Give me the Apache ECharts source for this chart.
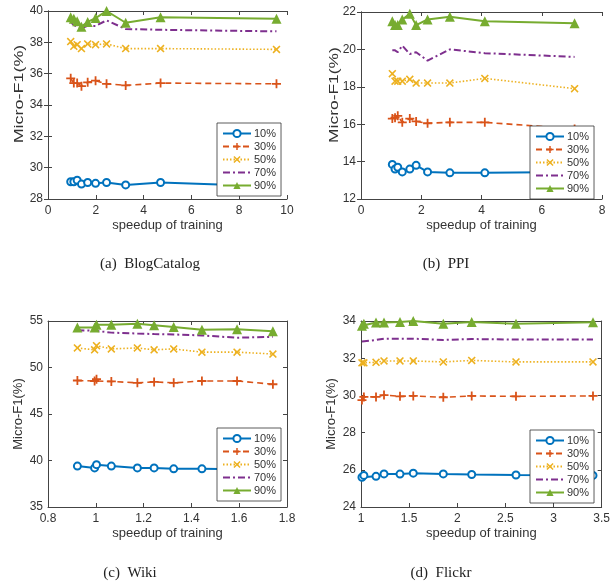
<!DOCTYPE html>
<html>
<head>
<meta charset="utf-8">
<script src="https://cdn.jsdelivr.net/npm/echarts@6/dist/echarts.min.js"></script>
<style>
  html, body { margin: 0; padding: 0; background: #fff; }
  #main { width: 613px; height: 584px; }
</style>
</head>
<body>
<div id="main"></div>
<script>
// legend names, same in every panel
const seriesNames = ['10%', '30%', '50%', '70%', '90%'];

// (a) BlogCatalog
const blogX = [0.95, 1.08, 1.22, 1.40, 1.66, 1.99, 2.45, 3.25, 4.71, 9.56];
const blog10 = [29.1, 29.1, 29.2, 28.95, 29.05, 29.0, 29.05, 28.9, 29.05, 28.8];
const blog30 = [35.7, 35.4, 35.4, 35.2, 35.45, 35.55, 35.35, 35.25, 35.4, 35.35];
const blog50 = [38.05, 37.75, 37.85, 37.6, 37.9, 37.85, 37.9, 37.6, 37.6, 37.55];
const blog70 = [39.3, 39.1, 39.0, 38.9, 39.05, 39.05, 39.4, 38.85, 38.8, 38.7];
const blog90 = [39.6, 39.5, 39.35, 39.0, 39.3, 39.55, 40.0, 39.25, 39.6, 39.5];

// (b) PPI
const ppiX = [1.04, 1.13, 1.22, 1.37, 1.62, 1.83, 2.21, 2.95, 4.11, 7.09];
const ppi10 = [13.85, 13.6, 13.7, 13.45, 13.6, 13.8, 13.45, 13.4, 13.4, 13.45];
const ppi30 = [16.3, 16.35, 16.45, 16.1, 16.3, 16.15, 16.05, 16.1, 16.1, 15.75];
const ppi50 = [18.7, 18.3, 18.3, 18.3, 18.4, 18.2, 18.2, 18.2, 18.45, 17.9];
const ppi70 = [19.95, 19.95, 19.85, 20.2, 19.75, 19.85, 19.4, 20.0, 19.8, 19.6];
const ppi90 = [21.5, 21.3, 21.3, 21.6, 21.9, 21.3, 21.6, 21.75, 21.5, 21.4];

// (c) Wiki
const wikiX = [0.923, 0.995, 1.003, 1.065, 1.174, 1.244, 1.326, 1.444, 1.591, 1.741];
const wiki10 = [39.4, 39.2, 39.55, 39.4, 39.2, 39.2, 39.1, 39.1, 39.05, 39.0];
const wiki30 = [48.6, 48.55, 48.75, 48.5, 48.35, 48.45, 48.35, 48.55, 48.55, 48.2];
const wiki50 = [52.1, 51.9, 52.35, 52.0, 52.1, 51.9, 52.0, 51.65, 51.65, 51.45];
const wiki70 = [54.0, 53.95, 54.0, 53.75, 53.65, 53.6, 53.55, 53.45, 53.2, 53.3];
const wiki90 = [54.3, 54.3, 54.6, 54.6, 54.7, 54.55, 54.35, 54.05, 54.1, 53.9];

// (d) Flickr
const flickrX = [1.01, 1.03, 1.156, 1.239, 1.405, 1.543, 1.855, 2.15, 2.61, 3.41];
const flickr10 = [25.6, 25.7, 25.65, 25.78, 25.77, 25.82, 25.78, 25.75, 25.72, 25.7];
const flickr30 = [29.75, 29.92, 29.92, 30.02, 29.95, 29.97, 29.9, 29.97, 29.95, 29.97];
const flickr50 = [31.75, 31.75, 31.78, 31.85, 31.85, 31.85, 31.8, 31.88, 31.8, 31.8];
const flickr70 = [32.9, 32.92, 32.98, 33.05, 33.05, 33.05, 32.98, 33.03, 33.0, 33.0];
const flickr90 = [33.75, 33.85, 33.92, 33.92, 33.95, 34.0, 33.85, 33.95, 33.85, 33.93];

// axis ranges per panel
const xRanges = [[0, 10, 2], [0, 8, 2], [0.8, 1.8, 0.2], [1, 3.5, 0.5]];
const yRanges = [[28, 40, 2], [12, 22, 2], [35, 55, 5], [24, 34, 2]];
const captions = ['(a)  BlogCatalog', '(b)  PPI', '(c)  Wiki', '(d)  Flickr'];

const panels = [
  { x: blogX, ys: [blog10, blog30, blog50, blog70, blog90] },
  { x: ppiX, ys: [ppi10, ppi30, ppi50, ppi70, ppi90] },
  { x: wikiX, ys: [wiki10, wiki30, wiki50, wiki70, wiki90] },
  { x: flickrX, ys: [flickr10, flickr30, flickr50, flickr70, flickr90] }
];

// layout of the four boxes
const grids = [
  { left: 48, top: 11, width: 239, height: 188 },
  { left: 361, top: 12, width: 241, height: 187 },
  { left: 48, top: 321, width: 239, height: 186 },
  { left: 361, top: 321, width: 241, height: 186 }
];
const legendPos = [[217, 123], [530, 126], [217, 428], [530, 430]];
const captionPos = [[150, 264], [446, 264], [130, 573], [441, 573]];
// top row y titles are stretched along the text in the source
const yNamePos = [[19, 94, 1.38], [334, 95, 1.34]];

const FONT = 'Liberation Sans, Arial, sans-serif';
const TEXT = '#333';
const AXIS = '#444';

// marker and line look, MATLAB default colours
const plusPath = 'path://M4,0H6V4H10V6H6V10H4V6H0V4H4Z';
const crossPath = 'path://M0,1.4L1.4,0L5,3.6L8.6,0L10,1.4L6.4,5L10,8.6L8.6,10L5,6.4L1.4,10L0,8.6L3.6,5Z';
const looks = [
  { color: '#0072BD', symbol: 'emptyCircle', size: 7, line: 'solid', width: 2 },
  { color: '#D95319', symbol: plusPath, size: 9, line: [6, 4], width: 1.6 },
  { color: '#EDB120', symbol: crossPath, size: 8, line: [1.5, 2], width: 1.6 },
  { color: '#7E2F8E', symbol: 'circle', size: 0, line: [7, 3, 2, 3], width: 2 },
  { color: '#77AC30', symbol: 'triangle', size: 10, line: 'solid', width: 2 }
];

// legend entries, the dash-dot one has no marker
const legendData = seriesNames.map(function (n, j) {
  if (j === 3) {
    return { name: n, itemStyle: { color: 'rgba(0,0,0,0)', borderWidth: 0, opacity: 0 } };
  }
  return { name: n };
});

const xAxes = [];
const yAxes = [];
const series = [];
const legends = [];
const graphics = [];

panels.forEach(function (p, i) {
  const xr = xRanges[i];
  const yr = yRanges[i];
  const tickIn = { show: true, inside: true, length: 4, lineStyle: { color: AXIS } };
  const lineSt = { show: true, lineStyle: { color: AXIS, width: 1 } };
  // bottom x axis with labels
  xAxes.push({
    type: 'value', gridIndex: i, position: 'bottom', min: xr[0], max: xr[1], interval: xr[2],
    axisLine: lineSt, axisTick: tickIn, splitLine: { show: false },
    axisLabel: { color: TEXT, fontFamily: FONT, fontSize: 12, margin: 6 },
    name: 'speedup of training', nameLocation: 'middle', nameGap: 20,
    nameTextStyle: { color: TEXT, fontFamily: FONT, fontSize: 13 }
  });
  // top x axis, only for the box
  xAxes.push({
    type: 'value', gridIndex: i, position: 'top', min: xr[0], max: xr[1], interval: xr[2],
    axisLine: lineSt, axisTick: tickIn, axisLabel: { show: false }, splitLine: { show: false }
  });
  yAxes.push({
    type: 'value', gridIndex: i, position: 'left', min: yr[0], max: yr[1], interval: yr[2],
    axisLine: lineSt, axisTick: tickIn, splitLine: { show: false },
    axisLabel: { color: TEXT, fontFamily: FONT, fontSize: 12, margin: 5 },
    name: i < 2 ? '' : 'Micro-F1(%)', nameLocation: 'middle', nameGap: 23,
    nameTextStyle: { color: TEXT, fontFamily: FONT, fontSize: 13 }
  });
  yAxes.push({
    type: 'value', gridIndex: i, position: 'right', min: yr[0], max: yr[1], interval: yr[2],
    axisLine: lineSt, axisTick: tickIn, axisLabel: { show: false }, splitLine: { show: false }
  });

  p.ys.forEach(function (ys, j) {
    const lk = looks[j];
    series.push({
      name: seriesNames[j],
      type: 'line',
      xAxisIndex: i * 2,
      yAxisIndex: i * 2,
      data: p.x.map(function (xv, k) { return [xv, ys[k]]; }),
      symbol: lk.symbol,
      symbolSize: lk.size,
      showSymbol: j !== 3,
      color: lk.color,
      lineStyle: { color: lk.color, width: lk.width, type: lk.line },
      itemStyle: { color: lk.color, borderWidth: j === 0 ? 1.6 : 0 },
      animation: false,
      z: 2
    });
  });

  legends.push({
    data: legendData,
    orient: 'vertical',
    left: legendPos[i][0],
    top: legendPos[i][1],
    itemWidth: 28,
    itemHeight: 9,
    itemGap: 2,
    padding: [5, 5, 5, 5],
    backgroundColor: '#fff',
    borderColor: '#333',
    borderWidth: 0.8,
    borderRadius: 0,
    selectedMode: false,
    textStyle: { color: TEXT, fontFamily: FONT, fontSize: 11, padding: [0, 0, 0, -2] }
  });

  graphics.push({
    type: 'text',
    x: captionPos[i][0],
    y: captionPos[i][1],
    style: {
      text: captions[i],
      fill: '#222',
      font: '15px "Liberation Serif", "DejaVu Serif", serif',
      textAlign: 'center',
      textVerticalAlign: 'middle'
    }
  });
});

// stretched y titles for the top row
yNamePos.forEach(function (pos) {
  graphics.push({
    type: 'text',
    x: pos[0],
    y: pos[1],
    rotation: Math.PI / 2,
    scaleX: pos[2],
    style: {
      text: 'Micro-F1(%)',
      fill: TEXT,
      font: '13px ' + FONT,
      textAlign: 'center',
      textVerticalAlign: 'middle'
    }
  });
});

const chart = echarts.init(document.getElementById('main'));
chart.setOption({
  backgroundColor: '#fff',
  animation: false,
  grid: grids,
  xAxis: xAxes,
  yAxis: yAxes,
  legend: legends,
  series: series,
  graphic: graphics
});
</script>
</body>
</html>
